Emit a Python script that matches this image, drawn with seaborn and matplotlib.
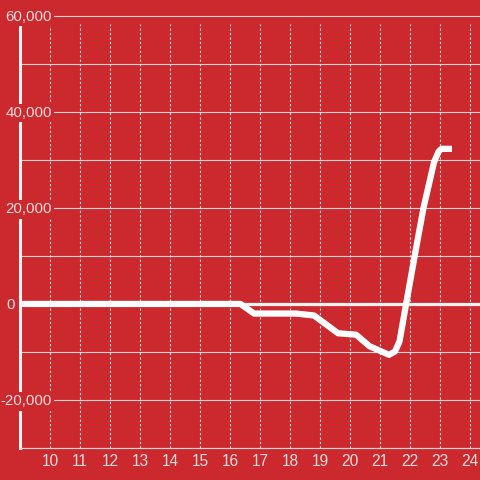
import seaborn as sns
import matplotlib.pyplot as plt

# hour of day vs. running total
hours = [9, 16.35, 16.8, 18.2, 18.8, 19.6, 20.2, 20.65, 21.3, 21.5, 21.65, 21.87, 22.17, 22.45, 22.8, 22.95, 23.05, 23.4]
values = [0, 0, -2000, -2000, -2400, -6100, -6400, -8800, -10600, -9900, -7800, 0, 10500, 20000, 29500, 31700, 32300, 32300]

x_ticks = list(range(10, 25))
y_grid = list(range(-30000, 60001, 10000))
y_labeled = [60000, 40000, 20000, 0, -20000]
y_text = ["60,000", "40,000", "20,000", "0", "-20,000"]

bg = "#cc292e"
label_col = "#f3dcdc"

sns.set_theme(style="white", rc={"figure.facecolor": bg, "axes.facecolor": bg})
plt.rcParams["font.family"] = ["Liberation Sans", "DejaVu Sans"]

fig = plt.figure(figsize=(4.8, 4.8), dpi=100)
ax = fig.add_axes([20 / 480, 32 / 480, 460 / 480, 424 / 480])

# grid
for v in y_grid:
    ax.axhline(v, color="#d4d4d4", lw=0.8, zorder=1, clip_on=False)
for t in x_ticks:
    ax.axvline(t, color="#f0dede", lw=0.8, ls=(0, (2, 2)), zorder=1)
ax.axhline(0, color="#f2f2f2", lw=2.3, zorder=2)

sns.lineplot(x=hours, y=values, ax=ax, color="white", lw=4.5,
             solid_capstyle="butt", solid_joinstyle="round", zorder=4)

ax.set_xlim(9, 24.333)
ax.set_ylim(-30000, 58300)
ax.set_xticks(x_ticks)
ax.set_xticklabels([str(t) for t in x_ticks], color=label_col, fontsize=11.2)
ax.set_yticks([])
ax.tick_params(axis="x", length=0, pad=4.5)

for s in ["top", "right"]:
    ax.spines[s].set_visible(False)
ax.spines["left"].set_color("#f2f2f2")
ax.spines["left"].set_linewidth(2.2)
ax.spines["bottom"].set_color("#d4d4d4")
ax.spines["bottom"].set_linewidth(0.8)

for v, s in zip(y_labeled, y_text):
    xpos = -5 / 460 if v == 0 else 32 / 460
    ax.text(xpos, v, s, transform=ax.get_yaxis_transform(), ha="right", va="center_baseline",
            color=label_col, fontsize=10.8, zorder=5,
            bbox=dict(facecolor=bg, edgecolor="none", pad=1.5))

fig.savefig("out.png", dpi=100, facecolor=bg)
